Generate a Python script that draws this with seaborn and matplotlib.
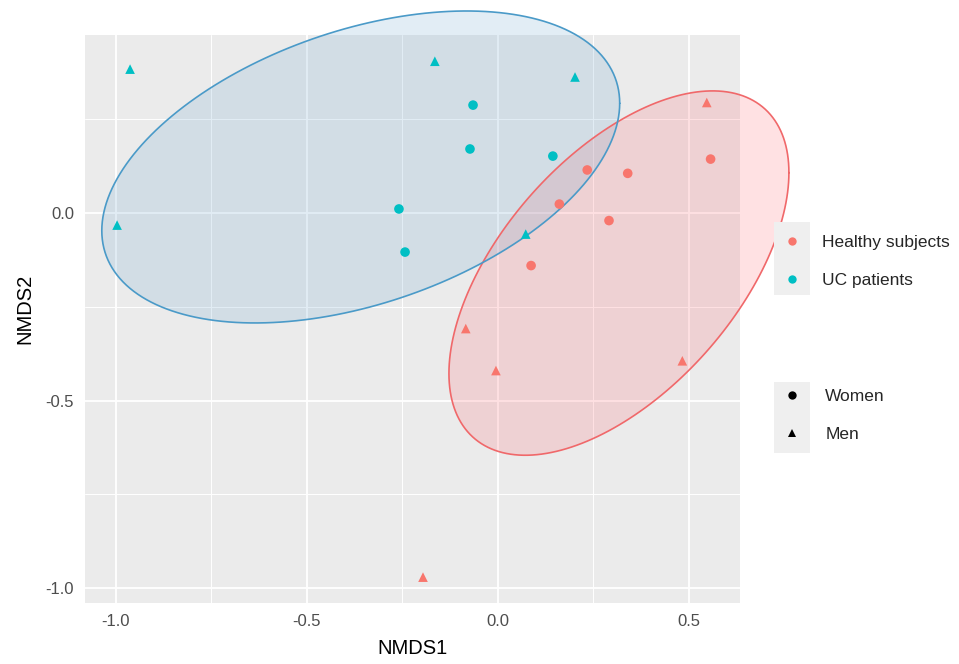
import numpy as np
import pandas as pd
import matplotlib
matplotlib.use("Agg")
import matplotlib.pyplot as plt
from matplotlib.lines import Line2D
from matplotlib.patches import Rectangle
import seaborn as sns

# ---------------- data ----------------
groups = ["Healthy subjects", "UC patients"]
sexes = ["Women", "Men"]

hs_x = [0.547, 0.557, 0.340, 0.234, 0.161, 0.291, 0.087, -0.084, -0.005, 0.483, -0.196]
hs_y = [0.295, 0.144, 0.106, 0.115, 0.024, -0.020, -0.140, -0.308, -0.420, -0.394, -0.971]
hs_sex = ["Men", "Women", "Women", "Women", "Women", "Women", "Women", "Men", "Men", "Men", "Men"]

uc_x = [-0.963, -0.997, -0.165, 0.202, 0.073, -0.065, -0.073, -0.259, -0.243, 0.144]
uc_y = [0.384, -0.032, 0.405, 0.363, -0.056, 0.288, 0.171, 0.011, -0.104, 0.152]
uc_sex = ["Men", "Men", "Men", "Men", "Men", "Women", "Women", "Women", "Women", "Women"]

# confidence ellipses: centre and shape matrix (NMDS units)
hs_ell_center = [0.317, -0.160]
hs_ell_shape = [[0.1981, 0.1192], [0.1192, 0.2361]]
uc_ell_center = [-0.359, 0.123]
uc_ell_shape = [[0.4597, 0.1152], [0.1152, 0.1731]]

x_ticks = [-1.0, -0.5, 0.0, 0.5]
y_ticks = [0.0, -0.5, -1.0]

df = pd.DataFrame({
    "NMDS1": hs_x + uc_x,
    "NMDS2": hs_y + uc_y,
    "Group": [groups[0]] * len(hs_x) + [groups[1]] * len(uc_x),
    "Sex": hs_sex + uc_sex,
})

point_colors = {"Healthy subjects": "#F8766D", "UC patients": "#00BFC4"}
ell_edge = {"Healthy subjects": "#F0686A", "UC patients": "#4A9AC8"}
ell_fill = {"Healthy subjects": "#FF6973", "UC patients": "#6EA5CD"}
ell_params = {"Healthy subjects": (hs_ell_center, hs_ell_shape),
              "UC patients": (uc_ell_center, uc_ell_shape)}
markers = {"Women": "o", "Men": "^"}


def ellipse_path(center, shape, segments=200):
    R = np.linalg.cholesky(np.array(shape)).T
    ang = np.linspace(0, 2 * np.pi, segments + 1)
    circ = np.column_stack([np.cos(ang), np.sin(ang)])
    return np.array(center) + circ @ R


# ---------------- figure ----------------
sns.set_theme(style="darkgrid")
plt.rcParams["font.family"] = ["Liberation Sans", "DejaVu Sans"]

fig = plt.figure(figsize=(9.59, 6.64), dpi=100)
ax = fig.add_axes([85 / 959, 1 - 603 / 664, 655 / 959, 568 / 664])
ax.set_facecolor("#EBEBEB")

for g in groups:
    c, sh = ell_params[g]
    ell = ellipse_path(c, sh)
    ax.fill(ell[:, 0], ell[:, 1], facecolor=ell_fill[g], alpha=0.2,
            edgecolor="none", clip_on=False, zorder=2)
    ax.plot(ell[:, 0], ell[:, 1], color=ell_edge[g], lw=1.2, clip_on=False, zorder=2.1)

sns.scatterplot(data=df, x="NMDS1", y="NMDS2", hue="Group", style="Sex",
                palette=point_colors, markers=markers, hue_order=groups,
                style_order=sexes, s=48, linewidth=0, legend=False, ax=ax, zorder=3)

ax.set_xlim(-1.081, 0.634)
ax.set_ylim(-1.04, 0.475)
ax.set_xticks(x_ticks)
ax.set_xticklabels(["%.1f" % v for v in x_ticks])
ax.set_yticks(y_ticks)
ax.set_yticklabels(["%.1f" % v for v in y_ticks])
ax.set_xticks([-0.75, -0.25, 0.25], minor=True)
ax.set_yticks([0.25, -0.25, -0.75], minor=True)
ax.grid(which="major", color="white", lw=1.3)
ax.grid(which="minor", color="white", lw=0.7)
for sp in ax.spines.values():
    sp.set_visible(False)
ax.tick_params(axis="both", which="major", length=4, width=1.1, color="#333333",
               labelsize=12, labelcolor="#4D4D4D", pad=4)
ax.tick_params(which="minor", length=0)
ax.set_xlabel("NMDS1", fontsize=14.5, color="black", labelpad=7)
ax.set_ylabel("NMDS2", fontsize=14.5, color="black")
ax.yaxis.set_label_coords(-0.078, 0.518)

# legends
fig.patches.append(Rectangle((774 / 959, 1 - 295 / 664), 36 / 959, 73 / 664,
                             transform=fig.transFigure, facecolor="#EFEFEF",
                             edgecolor="none", zorder=0))
fig.patches.append(Rectangle((774 / 959, 1 - 453 / 664), 36 / 959, 71 / 664,
                             transform=fig.transFigure, facecolor="#EFEFEF",
                             edgecolor="none", zorder=0))

h1 = [Line2D([], [], marker="o", linestyle="", color=point_colors[g],
             markersize=6, markeredgewidth=0) for g in groups]
fig.legend(h1, groups, loc="center left", bbox_to_anchor=(783.5 / 959, 1 - 261.5 / 664),
           frameon=False, fontsize=12.5, handlelength=1.0, handletextpad=1.2,
           borderpad=0, borderaxespad=0, labelspacing=1.3)

h2 = [Line2D([], [], marker=markers[s], linestyle="", color="black",
             markersize=6, markeredgewidth=0) for s in sexes]
fig.legend(h2, sexes, loc="center left", bbox_to_anchor=(783.5 / 959, 1 - 415.5 / 664),
           frameon=False, fontsize=12.5, handlelength=1.0, handletextpad=1.4,
           borderpad=0, borderaxespad=0, labelspacing=1.3)

fig.savefig("out.png", dpi=100)
